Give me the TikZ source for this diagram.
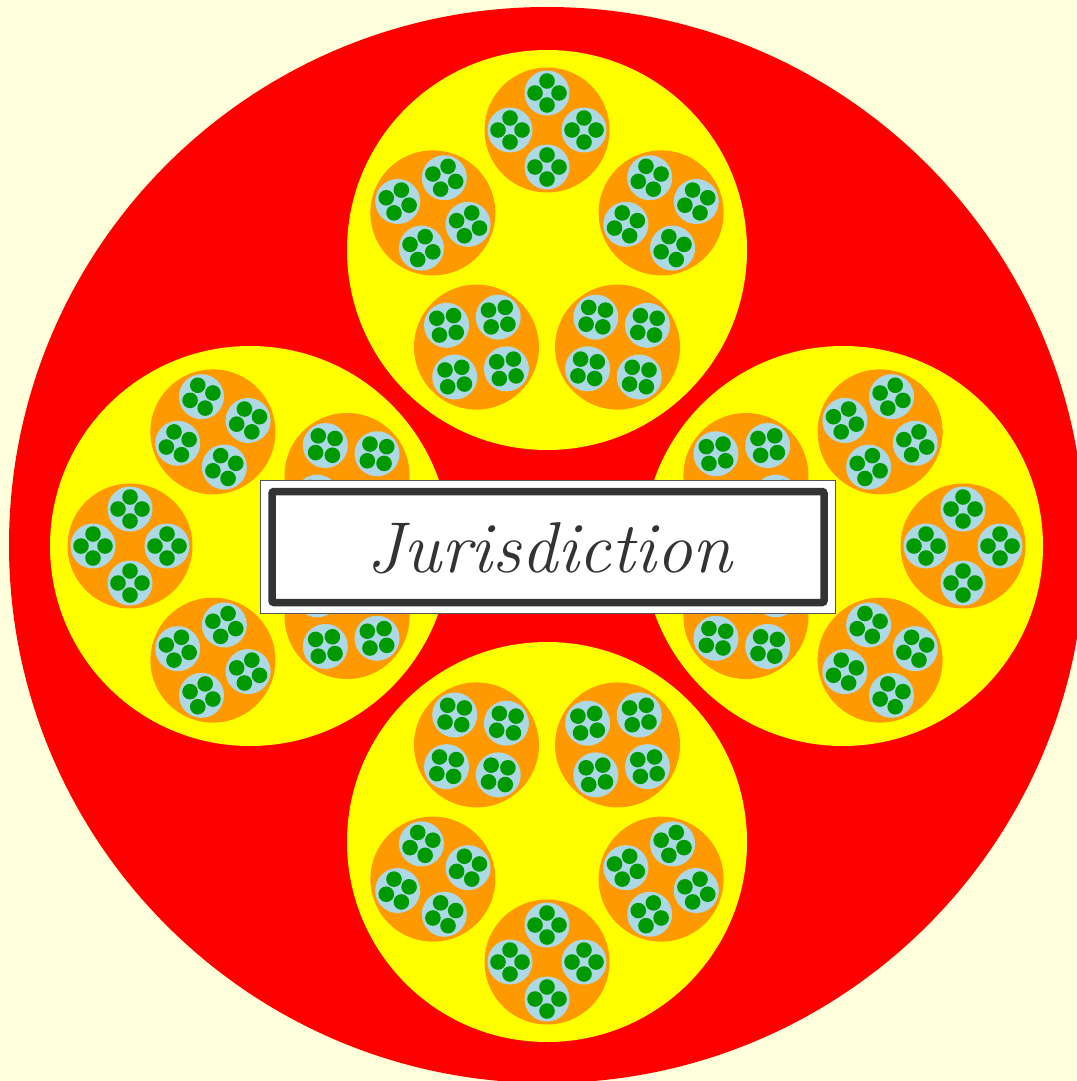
\documentclass[tikz,border=0pt]{standalone}
\usetikzlibrary{calc}
\definecolor{bgc}{HTML}{FFFFDC}
\definecolor{redc}{HTML}{FF0000}
\definecolor{yelc}{HTML}{FFFF00}
\definecolor{orgc}{HTML}{FF9900}
\definecolor{lbc}{HTML}{ADD8E6}
\definecolor{grc}{HTML}{009900}
\definecolor{dkc}{HTML}{333333}
\definecolor{gyc}{HTML}{555555}
\newcommand\jurfont{\itshape\fontsize{72}{72}\selectfont}
\tikzset{
  yel/.style={fill=yelc},
  org/.style={fill=orgc},
  lb/.style={fill=lbc},
  grn/.style={fill=grc},
}
\begin{document}
\begin{tikzpicture}[x=1pt,y=-1pt]
\fill[bgc] (0,0) rectangle (1076,1081);
\useasboundingbox (0,0) rectangle (1076,1081);
\fill[redc] (547,545) circle[radius=538];
\foreach \cx/\cy/\ph in {547/250/-90, 547/842/90, 250/546/180, 843/546/0} {
  \fill[yel] (\cx,\cy) circle[radius=200];
  \foreach \k in {0,...,4} {
    \pgfmathsetmacro\a{\ph+72*\k}
    \pgfmathsetmacro\ox{\cx+120*cos(\a)}
    \pgfmathsetmacro\oy{\cy+120*sin(\a)}
    \fill[org] (\ox,\oy) circle[radius=62.5];
    \foreach \j in {0,...,3} {
      \pgfmathsetmacro\b{\a+90*\j}
      \pgfmathsetmacro\bx{\ox+37*cos(\b)}
      \pgfmathsetmacro\by{\oy+37*sin(\b)}
      \fill[lb] (\bx,\by) circle[radius=22.5];
      \foreach \i in {0,...,3} {
        \pgfmathsetmacro\g{\b+90*\i}
        \fill[grn] ($(\bx,\by)+(\g:12)$) circle[radius=7.8];
      }
    }
  }
}
\node[draw=gyc, line width=1.5pt, fill=white, minimum width=575pt, minimum height=133pt, inner sep=0pt] (frame) at (548,547) {};
\node[draw=dkc, line width=7.5pt, rounded corners=2pt, minimum width=552pt, minimum height=111pt, inner sep=0pt] (inner) at (548,547) {};
\node[font=\jurfont, text=dkc, anchor=base, inner sep=0pt] (txt) at (549,572) {Jurisdiction};
\end{tikzpicture}
\end{document}
